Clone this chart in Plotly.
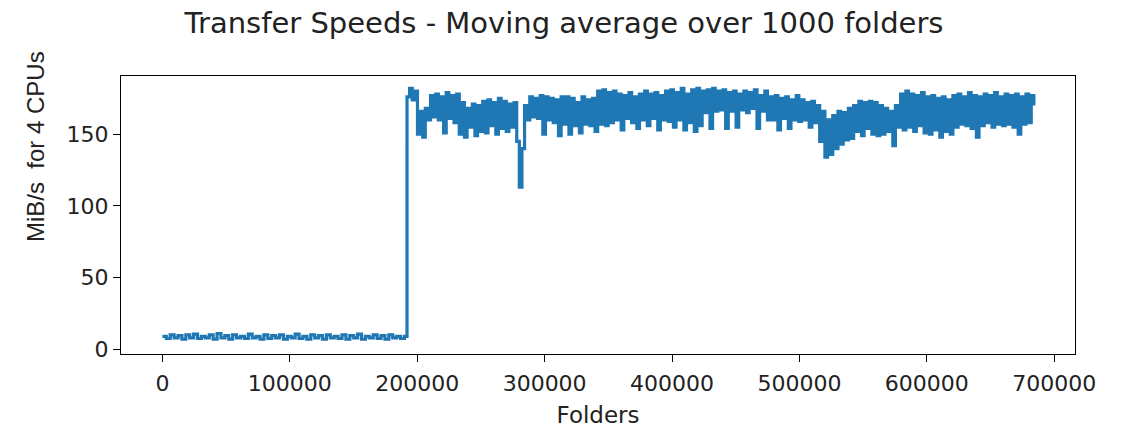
import numpy as np
import plotly.graph_objects as go

# Moving-average transfer speed (MiB/s)
low_speed = [9, 7.5, 10, 8, 9.5, 7, 10, 8, 10.5, 7.5,
             9, 8, 10, 7, 11, 8, 9.5, 7, 10, 8,
             9, 7.5, 10.5, 8, 9, 7, 10, 7.5, 9.5, 8,
             10, 7, 9, 8, 10.5, 7.5, 9, 7, 10, 8,
             9.5, 7, 10, 8, 9, 7.5, 10, 7, 9.5, 8,
             10.5, 7, 9, 8, 10, 7.5, 9.5, 7, 10, 8,
             9, 7.5, 9]

high_speed = [176, 182, 174, 180, 150, 166, 148, 168, 160, 177,
              162, 178, 160, 176, 151, 179, 161, 177, 158, 178,
              150, 172, 148, 168, 155, 171, 149, 170, 152, 173,
              151, 174, 156, 172, 150, 175, 154, 173, 152, 171,
              155, 172, 145, 113, 140, 170, 160, 176, 162, 175,
              161, 177, 150, 176, 160, 175, 158, 174, 149, 176,
              157, 176, 150, 175, 156, 172, 151, 176, 157, 174,
              156, 175, 152, 180, 157, 181, 156, 179, 158, 180,
              160, 178, 153, 177, 161, 179, 158, 176, 154, 178,
              160, 180, 156, 178, 161, 179, 153, 177, 160, 180,
              159, 181, 155, 179, 160, 182, 153, 178, 158, 181,
              152, 182, 156, 180, 165, 181, 154, 182, 166, 180,
              167, 181, 154, 179, 166, 180, 155, 178, 167, 180,
              165, 179, 168, 181, 154, 177, 166, 180, 160, 176,
              160, 177, 153, 175, 161, 176, 154, 174, 160, 177,
              159, 174, 160, 172, 155, 173, 158, 170, 145, 166,
              134, 160, 136, 163, 140, 166, 143, 165, 146, 168,
              147, 170, 152, 173, 149, 172, 154, 173, 150, 172,
              149, 170, 150, 168, 152, 166, 142, 170, 155, 178,
              153, 180, 155, 178, 152, 177, 156, 179, 151, 176,
              150, 177, 153, 175, 148, 176, 152, 174, 150, 177,
              155, 178, 157, 176, 156, 179, 154, 177, 148, 176,
              156, 178, 158, 177, 155, 179, 157, 176, 156, 178,
              157, 177, 155, 178, 150, 176, 157, 178, 158, 177,
              170]

low_start, low_end = 0, 190000
high_start, high_end = 192000, 684000

x_ticks = [0, 100000, 200000, 300000, 400000, 500000, 600000, 700000]
y_ticks = [0, 50, 100, 150]

folders = np.concatenate([np.linspace(low_start, low_end, len(low_speed)),
                          np.linspace(high_start, high_end, len(high_speed))])
speed = low_speed + high_speed

fig = go.Figure()
fig.add_trace(go.Scatter(x=folders, y=speed, mode="lines",
                         line=dict(color="#1f77b4", width=3.2, shape="hv"),
                         showlegend=False, hoverinfo="skip"))

tick_font = dict(family="DejaVu Sans", size=22, color="#222222")
fig.update_layout(
    width=1128, height=428,
    margin=dict(l=121, r=53, t=76, b=74, autoexpand=False),
    paper_bgcolor="white", plot_bgcolor="white",
    title=dict(text="Transfer Speeds - Moving average over 1000 folders",
               x=0.5, xref="container", xanchor="center",
               y=1 - 23 / 428, yref="container", yanchor="middle",
               font=dict(family="DejaVu Sans", size=29, color="#222222")),
    xaxis=dict(range=[-32500, 716300], tickvals=x_ticks,
               ticktext=[str(v) for v in x_ticks], automargin=False,
               showgrid=False, zeroline=False,
               showline=True, mirror=True, linecolor="black", linewidth=1.3,
               ticks="outside", ticklen=7, tickwidth=1.3, tickcolor="black",
               tickfont=tick_font, ticklabelstandoff=2,
               title=dict(text="Folders", standoff=14,
                          font=dict(family="DejaVu Sans", size=23, color="#222222"))),
    yaxis=dict(range=[-3.3, 190.6], tickvals=y_ticks,
               ticktext=[str(v) for v in y_ticks], automargin=False,
               showgrid=False, zeroline=False,
               showline=True, mirror=True, linecolor="black", linewidth=1.3,
               ticks="outside", ticklen=7, tickwidth=1.3, tickcolor="black",
               tickfont=tick_font),
    annotations=[dict(text="MiB/s  for 4 CPUs", textangle=-90,
                      x=0, y=0, xref="paper", yref="paper",
                      xanchor="center", yanchor="middle", showarrow=False,
                      font=dict(family="Liberation Sans", size=24, color="#222222"))],
)
# annotation coordinates are relative to the plot area; convert from page pixels
pa_w, pa_h = 1128 - 121 - 53, 428 - 76 - 74
fig.layout.annotations[0].x = (35 - 121) / pa_w
fig.layout.annotations[0].y = (428 - 74 - 147) / pa_h

fig.write_html("out.html")
